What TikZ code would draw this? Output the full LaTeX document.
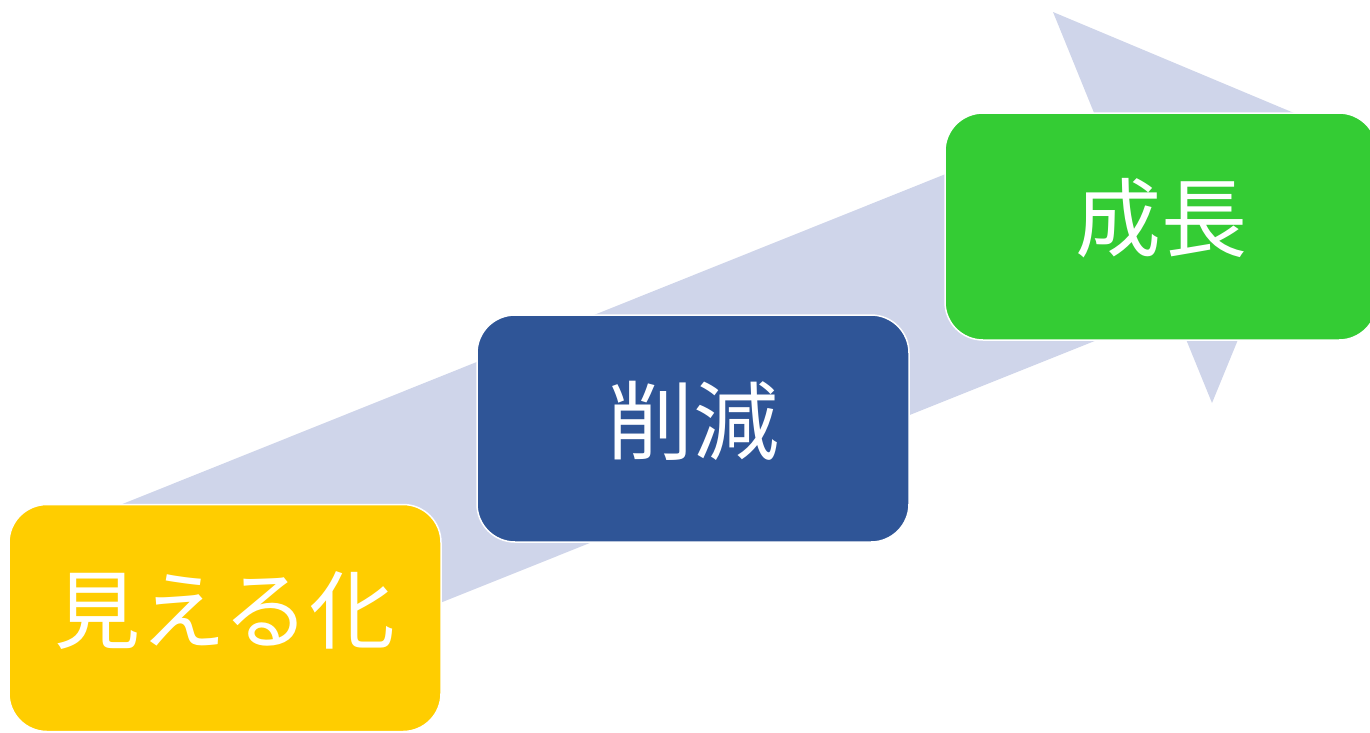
\documentclass[tikz,border=0pt]{standalone}
\usepackage{fontspec}
\newfontfamily\cjk{Noto Sans CJK JP}
\definecolor{arrowc}{RGB}{207,213,234}
\definecolor{yelc}{RGB}{255,205,0}
\definecolor{bluc}{RGB}{47,85,151}
\definecolor{grnc}{RGB}{52,204,52}
\newcommand{\liftup}[1]{\raisebox{0pt}[\height][\dimexpr\depth+16pt\relax]{#1}}
\begin{document}
\begin{tikzpicture}[x=1pt,y=-1pt,
  stepbox/.style={draw=white, line width=1.5pt, rounded corners=38pt, text=white,
    font=\cjk\fontsize{86}{86}\selectfont, inner sep=0pt,
    minimum width=432pt, minimum height=227pt}]
\useasboundingbox (0,0) rectangle (1370,732);
\fill[arrowc] (100,513) -- (1094.6,114.3) -- (1053,12) -- (1325.5,126.2)
  -- (1212,403) -- (1173.8,309.3) -- (200,699) -- cycle;
\node[stepbox, fill=yelc] (mieru) at (225,618) {\liftup{見える化}};
\node[stepbox, fill=bluc] (sakugen) at (693,428.5) {\liftup{削減}};
\node[stepbox, fill=grnc] (seicho) at (1161,226.5) {\liftup{成長}};
\end{tikzpicture}
\end{document}
